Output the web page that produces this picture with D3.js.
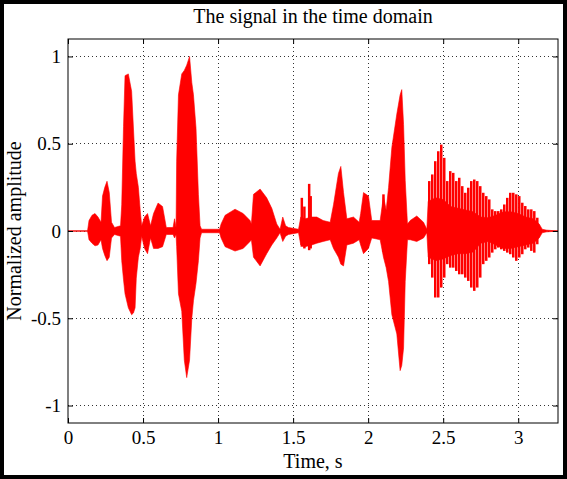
<!DOCTYPE html>
<html>
<head>
<meta charset="utf-8">
<script src="https://cdn.jsdelivr.net/npm/d3@7"></script>
<style>
  html, body { margin: 0; padding: 0; background: #fff; }
  text { font-family: "Liberation Serif", "Times New Roman", serif; fill: #000; }
</style>
</head>
<body>
<div id="chart"></div>
<script>
// envelope of the waveform (time in s, normalized amplitude)
const times = [0, 0.13, 0.14, 0.16, 0.18, 0.2, 0.22, 0.23, 0.245, 0.26, 0.275, 0.29, 0.31, 0.35, 0.358, 0.37, 0.38, 0.402, 0.424, 0.436, 0.447, 0.455, 0.469, 0.481, 0.491,
  0.51, 0.53, 0.55, 0.57, 0.6, 0.63, 0.655, 0.7, 0.71, 0.72, 0.724, 0.736, 0.758, 0.775, 0.791, 0.81, 0.825, 0.836, 0.853, 0.869, 0.88, 0.89,
  1.01, 1.02, 1.047, 1.113, 1.167, 1.213, 1.222, 1.236, 1.28, 1.324, 1.358, 1.391, 1.413, 1.431, 1.45, 1.469, 1.536, 1.551, 1.58, 1.624, 1.658, 1.7, 1.747,
  1.769, 1.802, 1.818, 1.836, 1.858, 1.902, 1.94, 1.95, 1.969, 2.002, 2.024, 2.08, 2.102, 2.12, 2.136, 2.158, 2.191, 2.213, 2.224, 2.236, 2.247, 2.262,
  2.28, 2.324, 2.369, 2.391, 2.4, 2.45, 2.5, 2.55, 2.6, 2.65, 2.7, 2.75, 2.8, 2.85, 2.9, 2.95, 3.0, 3.05, 3.1, 3.14, 3.16, 3.19, 3.265]
const upper = [0, 0, 0.06, 0.09, 0.1, 0.08, 0.05, 0.2, 0.25, 0.285, 0.22, 0.05, 0.02, 0.03, 0.15, 0.6, 0.89, 0.9, 0.8, 0.59, 0.4, 0.33, 0.25, 0.12, 0.03,
  0.08, 0.1, 0.03, 0.1, 0.16, 0.14, 0.02, 0.02, 0.07, 0.02, 0.4, 0.78, 0.9, 0.92, 0.95, 1.0, 0.85, 0.78, 0.59, 0.21, 0.03, 0.01,
  0.01, 0.04, 0.09, 0.125, 0.1, 0.06, 0.04, 0.21, 0.24, 0.19, 0.13, 0.04, 0.01, 0.08, 0.03, 0.02, 0.01, 0.08, 0.07, 0.08, 0.08, 0.06, 0.05,
  0.15, 0.33, 0.37, 0.22, 0.07, 0.08, 0.05, 0.1, 0.22, 0.2, 0.06, 0.06, 0.2, 0.12, 0.25, 0.48, 0.67, 0.78, 0.81, 0.61, 0.29, 0.04,
  0.06, 0.086, 0.05, 0.01, 0.17, 0.19, 0.18, 0.14, 0.13, 0.12, 0.11, 0.08, 0.076, 0.09, 0.11, 0.11, 0.1, 0.08, 0.07, 0.04, 0.01, 0.005, 0]
const lower = [0, 0, -0.05, -0.07, -0.085, -0.08, -0.05, -0.1, -0.14, -0.17, -0.15, -0.04, -0.02, -0.03, -0.17, -0.28, -0.36, -0.44, -0.48, -0.47, -0.44, -0.27, -0.15, -0.1, -0.03,
  -0.1, -0.13, -0.04, -0.1, -0.1, -0.09, -0.02, -0.02, -0.04, -0.02, -0.09, -0.36, -0.46, -0.74, -0.84, -0.74, -0.5, -0.4, -0.3, -0.17, -0.04, -0.01,
  -0.01, -0.04, -0.09, -0.115, -0.1, -0.06, -0.05, -0.15, -0.2, -0.13, -0.08, -0.04, -0.01, -0.06, -0.03, -0.02, -0.01, -0.08, -0.09, -0.08, -0.07, -0.06, -0.05,
  -0.1, -0.15, -0.19, -0.2, -0.08, -0.07, -0.05, -0.08, -0.13, -0.1, -0.04, -0.05, -0.15, -0.21, -0.29, -0.48, -0.59, -0.8, -0.77, -0.67, -0.29, -0.05,
  -0.05, -0.06, -0.04, -0.01, -0.15, -0.17, -0.16, -0.14, -0.13, -0.13, -0.12, -0.07, -0.06, -0.08, -0.1, -0.1, -0.09, -0.08, -0.07, -0.04, -0.01, -0.005, 0]

// single pitch spikes standing out of the envelope
const spikeTimes = [1.558, 1.575, 1.607, 1.617, 2.102,
  2.407, 2.427, 2.447, 2.467, 2.487, 2.507, 2.527, 2.547, 2.567, 2.587, 2.607, 2.627, 2.647, 2.667, 2.687, 2.707, 2.727, 2.747, 2.767,
  2.787, 2.807, 2.827, 2.847, 2.867, 2.887, 2.907, 2.927, 2.947, 2.967, 2.987, 3.007, 3.027, 3.047, 3.067, 3.087, 3.107, 3.127]
const spikeTops = [0.19, 0.14, 0.27, 0.2, 0.21,
  0.286, 0.324, 0.4, 0.457, 0.495, 0.419, 0.286, 0.343, 0.333, 0.286, 0.305, 0.257, 0.219, 0.248, 0.286, 0.295, 0.286, 0.257, 0.219,
  0.2, 0.181, 0.124, 0.114, 0.114, 0.124, 0.152, 0.19, 0.219, 0.219, 0.21, 0.2, 0.162, 0.143, 0.124, 0.124, 0.114, 0.076]
const spikeBottoms = [-0.09, -0.1, -0.11, -0.1, -0.12,
  -0.19, -0.267, -0.381, -0.381, -0.324, -0.267, -0.19, -0.21, -0.21, -0.229, -0.248, -0.248, -0.267, -0.286, -0.324, -0.343, -0.324, -0.267, -0.19,
  -0.171, -0.152, -0.124, -0.105, -0.095, -0.105, -0.114, -0.124, -0.133, -0.152, -0.171, -0.152, -0.133, -0.105, -0.095, -0.114, -0.124, -0.076]

const xTicks = [0, 0.5, 1, 1.5, 2, 2.5, 3]
const yTicks = [-1, -0.5, 0, 0.5, 1]
const titleText = "The signal in the time domain"
const xLabel = "Time, s"
const yLabel = "Normalized amplitude"

const width = 567
const height = 479
const margin = { top: 39, right: 9, bottom: 56, left: 68 }
const iw = width - margin.left - margin.right
const ih = height - margin.top - margin.bottom

const svg = d3.select('#chart').append('svg')
    .attr('width', width)
    .attr('height', height)

svg.append('rect')
    .attr('x', 0).attr('y', 0)
    .attr('width', width).attr('height', height)
    .attr('fill', '#fff')
    .attr('stroke', '#000')
    .attr('stroke-width', 8)

const x = d3.scaleLinear().domain([0, 3.265]).range([0, iw])
const y = d3.scaleLinear().domain([-1.1, 1.1]).range([ih, 0])

const g = svg.append('g')
    .attr('transform', `translate(${margin.left}, ${margin.top})`)

// grid
const grid = g.append('g').attr('class', 'grid')
grid.selectAll('.gx')
    .data(xTicks.filter(d => d > 0))
    .enter().append('line')
    .attr('x1', d => x(d)).attr('x2', d => x(d))
    .attr('y1', 0).attr('y2', ih)
grid.selectAll('.gy')
    .data(yTicks)
    .enter().append('line')
    .attr('x1', 0).attr('x2', iw)
    .attr('y1', d => y(d)).attr('y2', d => y(d))
grid.selectAll('line')
    .attr('stroke', '#333')
    .attr('stroke-width', 1)
    .attr('stroke-dasharray', '1 3')
    .attr('shape-rendering', 'crispEdges')

// waveform
const env = times.map((t, i) => ({ t: t, hi: upper[i], lo: lower[i] }))
const area = d3.area()
    .x(d => x(d.t))
    .y0(d => y(d.lo))
    .y1(d => y(d.hi))

g.append('line')
    .attr('x1', 0).attr('x2', iw)
    .attr('y1', y(0)).attr('y2', y(0))
    .attr('stroke', '#d43a3a')
    .attr('stroke-width', 1)

g.append('path')
    .datum(env)
    .attr('d', area)
    .attr('fill', '#ff0000')
    .attr('stroke', '#ff0000')
    .attr('stroke-width', 0.6)

g.selectAll('.spike')
    .data(spikeTimes.map((t, i) => ({ t: t, hi: spikeTops[i], lo: spikeBottoms[i] })))
    .enter().append('line')
    .attr('class', 'spike')
    .attr('x1', d => x(d.t)).attr('x2', d => x(d.t))
    .attr('y1', d => y(d.lo)).attr('y2', d => y(d.hi))
    .attr('stroke', '#ff0000')
    .attr('stroke-width', 2.5)

// axes, ticks inside on all four sides
const fmt = d => String(d).replace('−', '-')
const axB = g.append('g').attr('transform', `translate(0, ${ih})`)
    .call(d3.axisBottom(x).tickValues(xTicks).tickSize(-5).tickPadding(8).tickFormat(fmt))
const axL = g.append('g')
    .call(d3.axisLeft(y).tickValues(yTicks).tickSize(-5).tickPadding(7).tickFormat(fmt))
const axT = g.append('g')
    .call(d3.axisTop(x).tickValues(xTicks).tickSize(-5).tickFormat(''))
const axR = g.append('g').attr('transform', `translate(${iw}, 0)`)
    .call(d3.axisRight(y).tickValues(yTicks).tickSize(-5).tickFormat(''))

;[axB, axL, axT, axR].forEach(a => {
    a.select('.domain').remove()
    a.selectAll('line').attr('stroke', '#000')
    a.selectAll('text')
        .style('font-family', '"Liberation Serif", serif')
        .style('font-size', '19px')
        .attr('fill', '#000')
})

g.append('rect')
    .attr('x', 0).attr('y', 0)
    .attr('width', iw).attr('height', ih)
    .attr('fill', 'none')
    .attr('stroke', '#000')
    .attr('stroke-width', 1)

// labels
svg.append('text')
    .attr('x', margin.left + iw / 2)
    .attr('y', 23)
    .attr('text-anchor', 'middle')
    .style('font-size', '20px')
    .text(titleText)

svg.append('text')
    .attr('x', margin.left + iw / 2)
    .attr('y', 468)
    .attr('text-anchor', 'middle')
    .style('font-size', '20px')
    .text(xLabel)

svg.append('text')
    .attr('transform', `translate(21, ${margin.top + ih / 2}) rotate(-90)`)
    .attr('text-anchor', 'middle')
    .style('font-size', '20px')
    .text(yLabel)
</script>
</body>
</html>
